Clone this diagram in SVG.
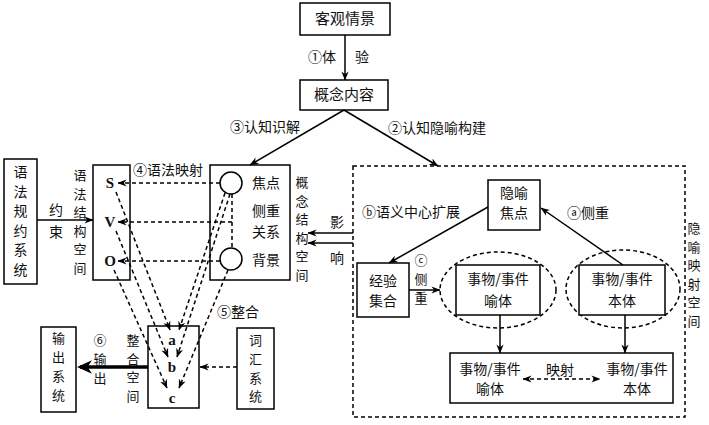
<svg xmlns="http://www.w3.org/2000/svg" width="709" height="425" viewBox="0 0 709 425">
<defs>
<marker id="ah" viewBox="0 0 10 10" refX="9.5" refY="5" markerWidth="9" markerHeight="9" orient="auto-start-reverse" markerUnits="userSpaceOnUse"><path d="M0,1 L10,5 L0,9 L3,5 z" fill="#000"/></marker>
<marker id="ahb" viewBox="0 0 10 10" refX="8" refY="5" markerWidth="15" markerHeight="15" orient="auto" markerUnits="userSpaceOnUse"><path d="M0,0.5 L10,5 L0,9.5 L3,5 z" fill="#000"/></marker>
<style>
.box{fill:#fff;stroke:#000;stroke-width:1.5}
.t{font-family:"Noto Sans CJK SC","Noto Sans",sans-serif;font-size:14px;fill:#111}
.b{font-size:15px}
.s{font-size:13px}
.c{text-anchor:middle}
.ln{stroke:#000;stroke-width:1.5;fill:none}
.dl{stroke:#000;stroke-width:1.5;fill:none;stroke-dasharray:4,3}
.lat{font-family:"Liberation Serif",serif;font-weight:bold;font-size:15px;fill:#111;text-anchor:middle}
</style>
</defs>
<rect width="709" height="425" fill="#fff"/>

<g id="n-scene"><rect class="box" x="300" y="3" width="90" height="32"/><text class="t b c" x="345" y="24">客观情景</text></g>
<g id="n-content"><rect class="box" x="300" y="80" width="88" height="30"/><text class="t b c" x="344" y="100">概念内容</text></g>

<g id="n-rules"><rect class="box" x="4" y="159" width="33" height="125"/>
<text class="t c"><tspan x="20.5" y="177">语</tspan><tspan x="20.5" y="196.6">法</tspan><tspan x="20.5" y="216.2">规</tspan><tspan x="20.5" y="235.8">约</tspan><tspan x="20.5" y="255.4">系</tspan><tspan x="20.5" y="275">统</tspan></text></g>

<g id="n-grammar"><rect class="box" x="93" y="165" width="37" height="115"/>
<text class="lat" x="110" y="188">S</text><text class="lat" x="110" y="227">V</text><text class="lat" x="110" y="266">O</text>
<text class="t s c"><tspan x="80" y="180">语</tspan><tspan x="80" y="198.5">法</tspan><tspan x="80" y="217">结</tspan><tspan x="80" y="235.5">构</tspan><tspan x="80" y="254">空</tspan><tspan x="80" y="272.5">间</tspan></text></g>

<g id="n-concept"><rect class="box" x="210" y="165" width="80" height="115"/>
<circle cx="231" cy="183" r="11" fill="#fff" stroke="#000" stroke-width="1.5"/>
<circle cx="231" cy="259" r="11" fill="#fff" stroke="#000" stroke-width="1.5"/>
<text class="t c" x="266" y="188">焦点</text><text class="t c" x="266" y="216">侧重</text><text class="t c" x="266" y="237">关系</text><text class="t c" x="266" y="265">背景</text>
<text class="t s c"><tspan x="302" y="187">概</tspan><tspan x="302" y="205.5">念</tspan><tspan x="302" y="224">结</tspan><tspan x="302" y="242.5">构</tspan><tspan x="302" y="261">空</tspan><tspan x="302" y="279.5">间</tspan></text></g>

<g id="n-integ"><rect class="box" x="148" y="326" width="51" height="82"/>
<text class="lat" x="172" y="345">a</text><text class="lat" x="172" y="372">b</text><text class="lat" x="172" y="403">c</text>
<text class="t s c"><tspan x="133" y="345">整</tspan><tspan x="133" y="363.5">合</tspan><tspan x="133" y="382">空</tspan><tspan x="133" y="400.5">间</tspan></text></g>

<g id="n-output"><rect class="box" x="41" y="327" width="35" height="85"/>
<text class="t s c"><tspan x="58.5" y="343">输</tspan><tspan x="58.5" y="362">出</tspan><tspan x="58.5" y="381">系</tspan><tspan x="58.5" y="400">统</tspan></text></g>

<g id="n-lex"><rect class="box" x="237" y="328" width="37" height="81"/>
<text class="t s c"><tspan x="255.5" y="345">词</tspan><tspan x="255.5" y="364">汇</tspan><tspan x="255.5" y="383">系</tspan><tspan x="255.5" y="401">统</tspan></text></g>

<g id="n-metaspace"><rect x="353" y="166" width="332" height="251" fill="none" stroke="#000" stroke-width="1.5" stroke-dasharray="4,3"/>
<text class="t s c"><tspan x="694" y="233">隐</tspan><tspan x="694" y="251.6">喻</tspan><tspan x="694" y="270.2">映</tspan><tspan x="694" y="288.8">射</tspan><tspan x="694" y="307.4">空</tspan><tspan x="694" y="326">间</tspan></text></g>

<g id="n-focus"><rect class="box" x="488" y="180" width="52" height="50"/><text class="t c" x="514" y="198">隐喻</text><text class="t c" x="514" y="218">焦点</text></g>
<g id="n-exp"><rect class="box" x="357" y="263" width="52" height="54"/><text class="t c" x="383" y="286">经验</text><text class="t c" x="383" y="306">集合</text></g>
<g id="n-vehicle"><ellipse cx="498" cy="290" rx="58" ry="38" class="dl"/><rect class="box" x="456" y="265" width="84" height="50"/><text class="t c" x="498" y="284">事物/事件</text><text class="t c" x="498" y="306">喻体</text></g>
<g id="n-tenor"><ellipse cx="623" cy="289" rx="57" ry="39" class="dl"/><rect class="box" x="579" y="265" width="86" height="50"/><text class="t c" x="622" y="284">事物/事件</text><text class="t c" x="622" y="306">本体</text></g>
<g id="n-map"><rect class="box" x="450" y="353" width="223" height="50"/>
<text class="t c" x="490" y="374">事物/事件</text><text class="t c" x="490" y="394">喻体</text>
<text class="t c" x="637" y="374">事物/事件</text><text class="t c" x="637" y="394">本体</text>
<text class="t c" x="560" y="375">映射</text></g>

<g id="connectors">
<line class="ln" x1="345" y1="35" x2="345" y2="80" marker-end="url(#ah)"/>
<text class="t" x="308" y="62">①体</text><text class="t c" x="362" y="62">验</text>
<line class="ln" x1="344" y1="110" x2="250" y2="165" marker-end="url(#ah)"/>
<line class="ln" x1="344" y1="110" x2="438" y2="166" marker-end="url(#ah)"/>
<text class="t" x="230" y="132">③认知识解</text>
<text class="t" x="388" y="133">②认知隐喻构建</text>

<line class="ln" x1="37" y1="220" x2="93" y2="220" marker-end="url(#ah)"/>
<text class="t c" x="56" y="215">约</text><text class="t c" x="56" y="237">束</text>

<text class="t" x="133" y="175">④语法映射</text>
<line class="dl" x1="220" y1="183" x2="118" y2="183" marker-end="url(#ah)"/>
<line class="dl" x1="232" y1="222" x2="118" y2="222" marker-end="url(#ah)"/>
<line class="dl" x1="220" y1="261" x2="118" y2="261" marker-end="url(#ah)"/>
<line class="dl" x1="232" y1="194" x2="232" y2="248"/>

<line class="dl" x1="116" y1="192" x2="170" y2="330" marker-end="url(#ah)"/>
<line class="dl" x1="116" y1="231" x2="168" y2="357" marker-end="url(#ah)"/>
<line class="dl" x1="114" y1="270" x2="167" y2="388" marker-end="url(#ah)"/>
<line class="dl" x1="225" y1="193" x2="179" y2="330" marker-end="url(#ah)"/>
<line class="dl" x1="230" y1="194" x2="177" y2="357" marker-end="url(#ah)"/>
<line class="dl" x1="228" y1="270" x2="179" y2="388" marker-end="url(#ah)"/>
<text class="t" x="217" y="317">⑤整合</text>

<line class="dl" x1="237" y1="367" x2="200" y2="367" marker-end="url(#ah)"/>
<line x1="148" y1="367" x2="80" y2="367" stroke="#000" stroke-width="3.5" marker-end="url(#ahb)"/>
<text class="t s c"><tspan x="100" y="345">⑥</tspan><tspan x="100" y="364">输</tspan><tspan x="100" y="383">出</tspan></text>

<line class="ln" x1="353" y1="233" x2="308" y2="233" marker-end="url(#ah)"/>
<line class="ln" x1="353" y1="243" x2="308" y2="243" marker-end="url(#ah)"/>
<text class="t c" x="337" y="227">影</text><text class="t c" x="337" y="263">响</text>

<line class="ln" x1="488" y1="207" x2="389" y2="263" marker-end="url(#ah)"/>
<text class="t" x="362" y="217">ⓑ语义中心扩展</text>
<line class="ln" x1="623" y1="265" x2="541" y2="208" marker-end="url(#ah)"/>
<text class="t" x="567" y="218">ⓐ侧重</text>
<line class="ln" x1="409" y1="290" x2="440" y2="290" marker-end="url(#ah)"/>
<text class="t s c"><tspan x="421" y="265">ⓒ</tspan><tspan x="421" y="284">侧</tspan><tspan x="421" y="303">重</tspan></text>
<line class="ln" x1="500" y1="315" x2="500" y2="353" marker-end="url(#ah)"/>
<line class="ln" x1="625" y1="315" x2="625" y2="353" marker-end="url(#ah)"/>
<line class="dl" x1="523" y1="379" x2="600" y2="379" marker-start="url(#ah)" marker-end="url(#ah)"/>
</g>
</svg>
